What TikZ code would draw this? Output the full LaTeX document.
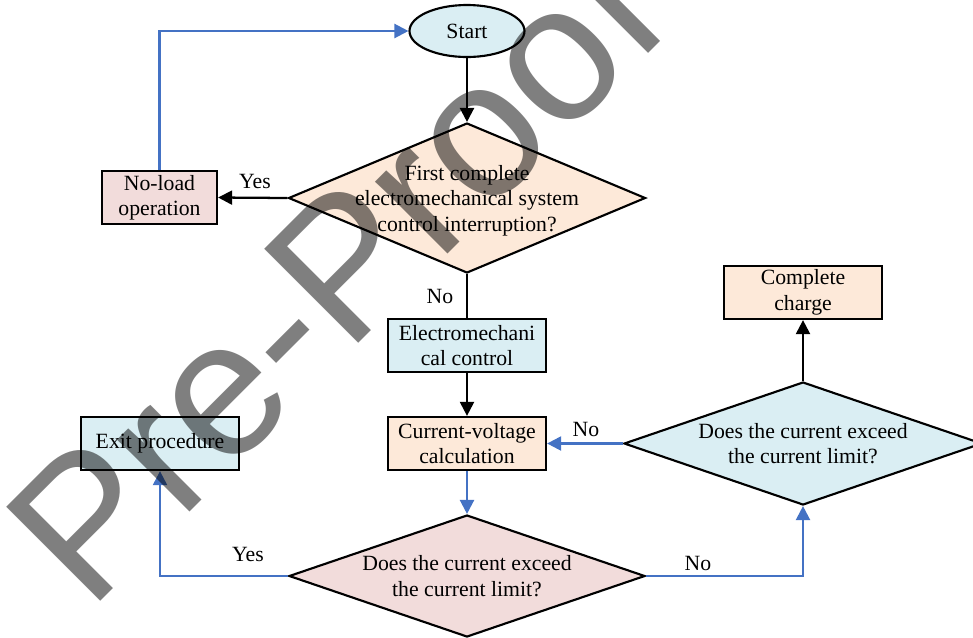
\documentclass[tikz,border=0pt]{standalone}
\usepackage{fontspec}
\setmainfont{Liberation Serif}
\setsansfont{Liberation Sans}
\usetikzlibrary{shapes.geometric,arrows.meta}

\definecolor{paleblue}{HTML}{DAEEF3}
\definecolor{palepeach}{HTML}{FDE9D9}
\definecolor{palerose}{HTML}{F2DCDB}
\definecolor{flowblue}{HTML}{4472C4}

\begin{document}
\begin{tikzpicture}[x=0.75pt,y=-0.75pt,
  every node/.style={font=\fontsize{16.3pt}{19.1pt}\selectfont},
  procbox/.style={draw,line width=1.7pt,rectangle,minimum width=118.5pt,
    minimum height=39.75pt,inner sep=0pt,align=center},
  decision/.style={draw,line width=1.6pt,diamond,inner sep=0pt},
  terminal/.style={draw,line width=1.6pt,ellipse,inner sep=0pt,
    minimum width=86.25pt,minimum height=39pt},
  tag/.style={inner sep=0pt},
  blackflow/.style={line width=1.7pt,draw=black},
  blueflow/.style={line width=1.7pt,draw=flowblue},
  tip/.style={-{Triangle[length=10.5pt,width=10.5pt]}},
  watermark/.style={font=\sffamily\fontsize{145pt}{145pt}\selectfont,
    text=black,text opacity=0.5,inner sep=0pt}]

\useasboundingbox (0,0) rectangle (973,637);

% shapes of the flow chart
\node[terminal,fill=paleblue] (start) at (467,31) {Start};
\node[decision,fill=palepeach,minimum width=267.75pt,minimum height=112.5pt] (d1) at (467,198) {};
\node[align=center] at ([yshift=-2pt]d1) {First complete\\electromechanical system\\control interruption?};
\node[procbox,fill=palerose,minimum width=86.25pt] (noload) at (159.5,197.5) {No-load\\operation};
\node[procbox,fill=paleblue] (em) at (467,345.5) {Electromechani\\cal control};
\node[procbox,fill=palepeach] (cv) at (467,443.5) {Current-voltage\\calculation};
\node[procbox,fill=paleblue] (exit) at (160,443.5) {Exit procedure};
\node[decision,fill=palerose,minimum width=267pt,minimum height=91.5pt] (d2) at (467,576) {};
\node[align=center] at (d2) {Does the current exceed\\the current limit?};
\node[decision,fill=paleblue,minimum width=268.5pt,minimum height=92.25pt] (d3) at (803,443.5) {};
\node[align=center] at (d3) {Does the current exceed\\the current limit?};
\node[procbox,fill=palepeach] (cc) at (803,292.5) {Complete\\charge};

% connectors
\draw[blackflow,tip] (start) -- (d1.north);
\draw[blackflow,tip] (d1.west) -- (noload.east);
\draw[blueflow,tip] (noload.north) |- (start.west);
\draw[blackflow] (d1.south) -- (em.north);
\draw[blackflow,tip] (em.south) -- (cv.north);
\draw[blueflow,tip] (cv.south) -- (d2.north);
\draw[blueflow,tip] (d2.west) -| (exit.south);
\draw[blueflow,tip] (d2.east) -| (d3.south);
\draw[blueflow,tip] (d3.west) -- (cv.east);
\draw[blackflow,tip] (d3.north) -- (cc.south);

% branch labels
\node[tag] (yes1) at (255,181) {Yes};
\node[tag] (no1) at (440,296) {No};
\node[tag] (yes2) at (248,554) {Yes};
\node[tag] (no2) at (698,563) {No};
\node[tag] (no3) at (586,429) {No};

% stamp across the chart
\node[watermark,rotate=45,anchor=base west] (stamp) at (89,613) {Pre-Proof};
\end{tikzpicture}
\end{document}
